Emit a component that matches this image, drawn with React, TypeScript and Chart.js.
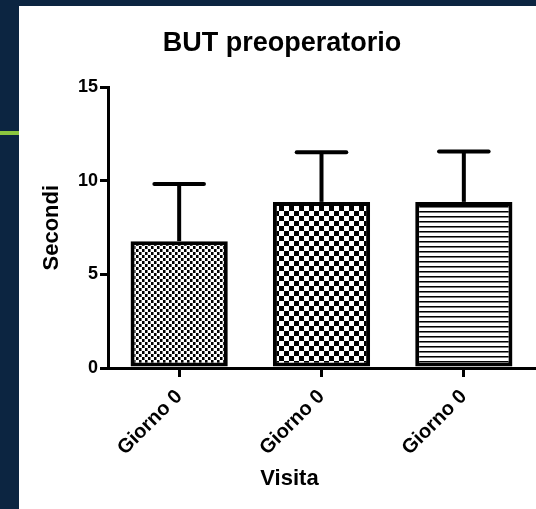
import React, { useEffect, useRef } from "react";
import { Chart, registerables } from "chart.js";

Chart.register(...registerables);

const categories = ["Giorno 0", "Giorno 0", "Giorno 0"];
const means = [6.78, 8.88, 8.88];
const sds = [3.05, 2.66, 2.7];
const yTickValues = [0, 5, 10, 15];
const chartTitle = "BUT preoperatorio";
const xTitle = "Visita";
const yTitle = "Secondi";
const patternKinds = ["fine", "coarse", "lines"];

const FONT = "'Liberation Sans', Arial, Helvetica, sans-serif";

function makePattern(kind: string): CanvasPattern | string {
  const c = document.createElement("canvas");
  const ctx = c.getContext("2d");
  if (!ctx) return "#888";
  if (kind === "fine") {
    c.width = 6;
    c.height = 6;
    ctx.fillStyle = "#fff";
    ctx.fillRect(0, 0, 6, 6);
    ctx.fillStyle = "#000";
    ctx.fillRect(0, 0, 3, 3);
    ctx.fillRect(3, 3, 3, 3);
    ctx.fillStyle = "#777";
    ctx.fillRect(2, 0, 1, 3);
    ctx.fillRect(5, 3, 1, 3);
  } else if (kind === "coarse") {
    c.width = 10;
    c.height = 10;
    ctx.fillStyle = "#fff";
    ctx.fillRect(0, 0, 10, 10);
    ctx.fillStyle = "#000";
    ctx.fillRect(0, 0, 5, 5);
    ctx.fillRect(5, 5, 5, 5);
  } else {
    c.width = 5;
    c.height = 5;
    ctx.fillStyle = "#fff";
    ctx.fillRect(0, 0, 5, 5);
    ctx.fillStyle = "#000";
    ctx.fillRect(0, 0, 5, 1);
    ctx.fillStyle = "#777";
    ctx.fillRect(0, 1, 5, 1);
  }
  return ctx.createPattern(c, "repeat") || "#888";
}

const errorBarPlugin = {
  id: "errorBars",
  afterDatasetsDraw(chart: any) {
    const meta = chart.getDatasetMeta(0);
    const yScale = chart.scales.y;
    const ctx = chart.ctx;
    ctx.save();
    ctx.strokeStyle = "#000";
    ctx.lineWidth = 4;
    meta.data.forEach((bar: any, i: number) => {
      const x = bar.x;
      const yTop = yScale.getPixelForValue(means[i] + sds[i]);
      const yBase = yScale.getPixelForValue(means[i]);
      const half = bar.width * 0.255;
      ctx.lineCap = "butt";
      ctx.beginPath();
      ctx.moveTo(x, yBase);
      ctx.lineTo(x, yTop);
      ctx.stroke();
      ctx.lineCap = "round";
      ctx.beginPath();
      ctx.moveTo(x - half, yTop);
      ctx.lineTo(x + half, yTop);
      ctx.stroke();
    });
    ctx.restore();
  },
};

const xTitlePlugin = {
  id: "xTitle",
  afterDraw(chart: any) {
    const { ctx, chartArea } = chart;
    ctx.save();
    ctx.font = `bold 22px ${FONT}`;
    ctx.fillStyle = "#000";
    ctx.textAlign = "center";
    ctx.textBaseline = "middle";
    const x = chartArea.left + (chartArea.right - chartArea.left) * 0.425;
    ctx.fillText(xTitle, x, chart.height - 30);
    ctx.restore();
  },
};

function BarChart() {
  const ref = useRef<HTMLCanvasElement | null>(null);
  useEffect(() => {
    if (!ref.current) return;
    const chart = new Chart(ref.current, {
      type: "bar",
      data: {
        labels: categories,
        datasets: [
          {
            data: means,
            backgroundColor: patternKinds.map((k) => makePattern(k)) as any,
            borderColor: "#000",
            borderWidth: 4,
            borderSkipped: false,
            barPercentage: 0.683,
            categoryPercentage: 1,
          },
        ],
      },
      options: {
        responsive: false,
        animation: false,
        layout: { padding: { top: 0, right: 10, bottom: 0, left: 10 } },
        plugins: {
          legend: { display: false },
          tooltip: { enabled: false },
          title: {
            display: true,
            text: chartTitle,
            color: "#000",
            font: { family: FONT, size: 27, weight: "bold" },
            padding: { top: 21, bottom: 28 },
          },
        },
        scales: {
          x: {
            grid: {
              display: true,
              offset: false,
              drawOnChartArea: false,
              drawTicks: true,
              tickLength: 9,
              color: "#000",
              lineWidth: 3,
            },
            border: { display: true, color: "#000", width: 3 },
            ticks: {
              color: "#000",
              font: { family: FONT, size: 20, weight: "bold" },
              maxRotation: 45,
              minRotation: 45,
              padding: 8,
              autoSkip: false,
            },
            afterFit: (s: any) => {
              s.height = 141;
            },
          },
          y: {
            min: 0,
            max: 15,
            afterBuildTicks: (s: any) => {
              s.ticks = yTickValues.map((v) => ({ value: v }));
            },
            ticks: {
              color: "#000",
              font: { family: FONT, size: 18, weight: "bold" },
              padding: 2,
            },
            grid: {
              drawOnChartArea: false,
              drawTicks: true,
              tickLength: 8,
              color: "#000",
              lineWidth: 3,
            },
            border: { display: true, color: "#000", width: 3 },
            title: {
              display: true,
              text: yTitle,
              color: "#000",
              font: { family: FONT, size: 22, weight: "bold" },
              padding: { top: 10, bottom: 0 },
            },
            afterFit: (s: any) => {
              s.width = 79;
            },
          },
        },
      },
      plugins: [errorBarPlugin, xTitlePlugin],
    });
    return () => chart.destroy();
  }, []);
  return (
    <canvas
      ref={ref}
      width={526}
      height={503}
      style={{ position: "absolute", left: 0, top: 0, width: 526, height: 503 }}
    />
  );
}

export default function App() {
  return (
    <div
      style={{
        position: "fixed",
        left: 0,
        top: 0,
        width: 536,
        height: 509,
        background: "#0c2541",
        overflow: "hidden",
      }}
    >
      <div
        style={{
          position: "absolute",
          left: 0,
          top: 131,
          width: 19,
          height: 4,
          background: "#8cc63f",
        }}
      />
      <div
        style={{
          position: "absolute",
          left: 19,
          top: 6,
          width: 517,
          height: 503,
          background: "#fff",
          overflow: "hidden",
        }}
      >
        <BarChart />
      </div>
    </div>
  );
}
